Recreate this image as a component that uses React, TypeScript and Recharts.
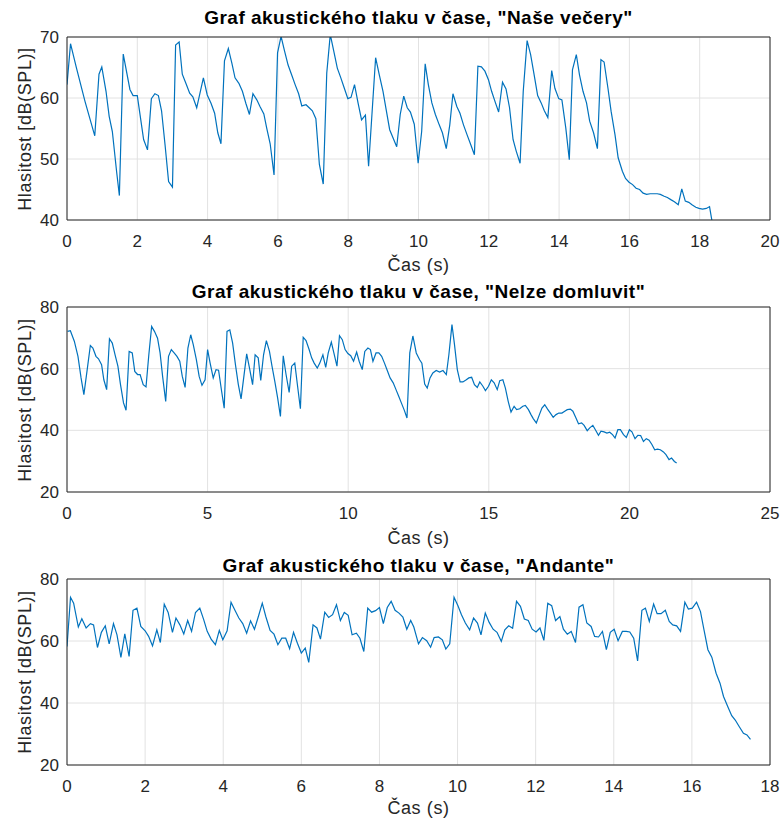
import { LineChart, Line, XAxis, YAxis, CartesianGrid } from "recharts";

// "Naše večery"
const naseTime = [
  0, 0.1, 0.27, 0.51, 0.79, 0.91, 0.99, 1.11, 1.2, 1.29, 1.41, 1.49, 1.6, 1.79, 1.88, 2.0, 2.18, 2.29, 2.4, 2.5,
  2.6, 2.69, 2.79, 2.89, 3.0, 3.09, 3.19, 3.28, 3.39, 3.49, 3.58, 3.69, 3.88, 3.99, 4.1, 4.2, 4.29, 4.38, 4.48,
  4.59, 4.69, 4.78, 4.89, 4.99, 5.09, 5.19, 5.29, 5.4, 5.49, 5.6, 5.68, 5.78, 5.89, 5.99, 6.09, 6.19, 6.29, 6.39,
  6.49, 6.59, 6.68, 6.8, 6.89, 6.98, 7.08, 7.18, 7.29, 7.39, 7.49, 7.6, 7.69, 7.79, 7.89, 7.99, 8.08, 8.18, 8.28,
  8.38, 8.49, 8.58, 8.78, 8.88, 8.99, 9.08, 9.18, 9.28, 9.38, 9.48, 9.58, 9.68, 9.77, 9.88, 9.99, 10.09, 10.19,
  10.28, 10.38, 10.48, 10.59, 10.68, 10.79, 10.89, 10.98, 11.09, 11.18, 11.28, 11.38, 11.49, 11.59, 11.69, 11.79,
  11.89, 11.99, 12.08, 12.19, 12.28, 12.39, 12.49, 12.59, 12.69, 12.78, 12.89, 12.98, 13.09, 13.19, 13.29, 13.39,
  13.49, 13.58, 13.68, 13.79, 13.88, 13.99, 14.08, 14.19, 14.29, 14.38, 14.49, 14.58, 14.68, 14.78, 14.87, 14.98,
  15.09, 15.19, 15.28, 15.39, 15.48, 15.59, 15.68, 15.8, 15.89, 15.99, 16.09, 16.19, 16.29, 16.39, 16.49, 16.59,
  16.69, 16.79, 16.88, 16.99, 17.08, 17.19, 17.28, 17.39, 17.49, 17.59, 17.69, 17.78, 17.89, 17.98, 18.08, 18.19,
  18.28, 18.38,
];
const naseSpl = [
  62.2, 68.9, 64.9, 59.5, 53.8, 63.9, 65.1, 61.1, 57.0, 54.5, 48.0, 44.0, 67.2, 61.4, 60.4, 60.4, 53.2, 51.5, 59.9,
  60.7, 60.4, 57.9, 52.3, 46.3, 45.4, 68.7, 69.2, 63.9, 62.3, 60.8, 60.2, 58.4, 63.3, 60.5, 59.1, 57.5, 54.3, 52.5,
  66.1, 68.1, 65.7, 63.3, 62.4, 61.1, 59.1, 57.3, 60.7, 59.7, 58.6, 57.4, 55.1, 52.5, 47.4, 67.4, 70.1, 67.7, 65.4,
  63.8, 62.2, 60.7, 58.7, 58.9, 58.4, 57.9, 56.6, 49.1, 45.9, 64.1, 70.4, 67.4, 64.9, 63.3, 61.6, 59.9, 60.1, 62.2,
  59.2, 56.4, 57.2, 48.8, 66.6, 63.9, 61.1, 58.1, 54.8, 53.4, 52.0, 57.3, 60.3, 58.4, 57.7, 55.7, 49.3, 54.5, 65.6,
  62.2, 59.2, 57.3, 55.6, 54.3, 51.7, 55.6, 60.7, 58.6, 57.5, 55.6, 54.0, 52.3, 50.7, 65.2, 65.1, 64.4, 63.0, 61.1,
  59.2, 57.7, 62.6, 61.5, 58.4, 53.2, 51.3, 49.3, 61.1, 69.4, 67.1, 63.8, 60.4, 59.2, 57.9, 56.8, 64.5, 61.6, 59.9,
  59.7, 55.1, 49.9, 64.6, 67.1, 63.8, 61.1, 59.2, 56.2, 54.3, 51.7, 66.3, 65.9, 61.6, 57.8, 54.0, 50.2, 48.0, 46.8,
  46.2, 45.8, 45.2, 45.0, 44.4, 44.2, 44.3, 44.3, 44.3, 44.2, 43.9, 43.7, 43.3, 43.0, 42.5, 45.1, 43.1, 42.9, 42.5,
  42.1, 41.9, 41.8, 41.9, 42.2, 38.8,
];

// "Nelze domluvit"
const nelzeTime = [
  0.02, 0.12, 0.26, 0.39, 0.5, 0.6, 0.71, 0.83, 0.92, 1.03, 1.12, 1.23, 1.31, 1.41, 1.51, 1.61, 1.71, 1.81, 1.9,
  2.01, 2.1, 2.21, 2.32, 2.41, 2.51, 2.6, 2.71, 2.81, 2.91, 3.01, 3.11, 3.22, 3.31, 3.4, 3.51, 3.61, 3.71, 3.81,
  3.91, 4.01, 4.1, 4.2, 4.3, 4.4, 4.49, 4.6, 4.7, 4.8, 4.91, 5.0, 5.09, 5.2, 5.3, 5.39, 5.5, 5.59, 5.69, 5.79, 5.89,
  5.99, 6.09, 6.19, 6.29, 6.39, 6.49, 6.6, 6.69, 6.8, 6.89, 6.99, 7.09, 7.2, 7.29, 7.39, 7.49, 7.59, 7.69, 7.79,
  7.9, 7.99, 8.1, 8.2, 8.3, 8.4, 8.5, 8.61, 8.7, 8.79, 8.9, 8.99, 9.1, 9.2, 9.29, 9.4, 9.49, 9.6, 9.69, 9.79, 9.89,
  9.99, 10.09, 10.19, 10.3, 10.39, 10.5, 10.59, 10.7, 10.79, 10.88, 10.99, 11.09, 11.19, 11.29, 11.39, 11.49, 11.6,
  11.7, 11.8, 11.89, 12.0, 12.09, 12.19, 12.3, 12.42, 12.54, 12.62, 12.72, 12.81, 12.91, 13.01, 13.13, 13.25,
  13.37, 13.49, 13.58, 13.69, 13.78, 13.88, 13.98, 14.08, 14.2, 14.29, 14.39, 14.49, 14.59, 14.68, 14.79, 14.88,
  14.99, 15.09, 15.19, 15.3, 15.39, 15.5, 15.59, 15.69, 15.79, 15.9, 15.99, 16.1, 16.21, 16.3, 16.41, 16.5, 16.58,
  16.69, 16.8, 16.89, 16.99, 17.09, 17.19, 17.29, 17.39, 17.49, 17.6, 17.7, 17.79, 17.9, 17.99, 18.1, 18.19, 18.3,
  18.39, 18.5, 18.59, 18.7, 18.79, 18.9, 18.99, 19.1, 19.2, 19.3, 19.4, 19.49, 19.59, 19.68, 19.79, 19.89, 20.0,
  20.09, 20.2, 20.3, 20.4, 20.5, 20.6, 20.7, 20.8, 20.9, 21.0, 21.1, 21.21, 21.3, 21.41, 21.5, 21.6, 21.68,
];
const nelzeSpl = [
  72.1, 72.3, 68.9, 64.0, 57.0, 51.6, 59.1, 67.5, 66.7, 64.0, 63.2, 61.3, 56.4, 53.2, 69.7, 68.3, 64.5, 60.8, 55.0,
  48.9, 46.5, 65.6, 65.1, 59.1, 58.1, 58.1, 54.8, 54.1, 64.5, 73.7, 72.1, 69.9, 65.1, 57.5, 49.4, 64.0, 66.2, 65.1,
  64.0, 62.4, 57.5, 53.9, 66.7, 71.0, 67.8, 62.9, 57.5, 54.6, 56.4, 66.2, 61.8, 57.0, 59.7, 59.5, 52.6, 47.2, 72.1,
  72.6, 68.3, 61.3, 55.0, 50.2, 57.5, 64.8, 60.2, 54.8, 64.5, 63.5, 56.2, 64.5, 69.1, 65.6, 60.8, 55.9, 50.5, 44.5,
  64.2, 58.1, 52.3, 60.8, 61.8, 54.3, 47.0, 70.2, 69.1, 66.2, 63.5, 61.8, 60.2, 61.8, 64.5, 60.4, 65.1, 68.6, 65.1,
  60.8, 70.7, 69.4, 66.2, 64.9, 64.2, 62.4, 65.4, 62.4, 59.7, 65.6, 66.7, 66.2, 62.4, 65.1, 65.1, 64.0, 61.8, 59.4,
  57.0, 55.4, 53.2, 51.0, 48.9, 46.4, 44.0, 65.1, 70.6, 65.1, 62.9, 61.8, 55.0, 53.7, 57.0, 58.6, 59.4, 58.9, 59.4,
  58.1, 64.5, 74.3, 67.8, 59.7, 55.7, 55.7, 56.4, 57.0, 57.2, 54.8, 53.9, 55.7, 54.3, 52.9, 54.3, 56.4, 55.4, 53.2,
  56.1, 56.4, 53.7, 49.4, 45.9, 47.8, 46.7, 47.0, 47.8, 48.1, 46.7, 45.1, 43.8, 42.4, 45.1, 47.2, 48.3, 46.9, 45.6,
  44.2, 45.1, 45.6, 45.6, 46.2, 46.7, 46.9, 46.2, 44.0, 42.1, 42.4, 41.6, 39.9, 40.8, 41.6, 40.2, 38.4, 39.7, 39.5,
  39.1, 39.4, 38.6, 37.5, 40.2, 40.2, 38.6, 37.7, 40.2, 39.5, 37.3, 38.4, 38.3, 36.4, 37.3, 36.8, 35.4, 33.7, 33.9,
  33.7, 33.0, 32.1, 30.5, 31.0, 29.9, 29.4,
];

// "Andante"
const andanteTime = [
  0, 0.09, 0.17, 0.29, 0.38, 0.49, 0.6, 0.68, 0.78, 0.88, 0.98, 1.08, 1.19, 1.28, 1.38, 1.48, 1.59, 1.69, 1.79,
  1.89, 2.0, 2.09, 2.19, 2.3, 2.39, 2.49, 2.59, 2.7, 2.79, 2.89, 2.99, 3.09, 3.19, 3.29, 3.4, 3.5, 3.59, 3.69, 3.8,
  3.9, 3.99, 4.1, 4.2, 4.3, 4.4, 4.5, 4.6, 4.7, 4.8, 4.9, 5.0, 5.09, 5.2, 5.3, 5.4, 5.5, 5.6, 5.7, 5.8, 5.9, 6.0,
  6.1, 6.19, 6.3, 6.4, 6.49, 6.6, 6.7, 6.8, 6.9, 7.0, 7.1, 7.2, 7.3, 7.41, 7.5, 7.6, 7.7, 7.8, 7.9, 8.0, 8.1, 8.2,
  8.3, 8.4, 8.5, 8.6, 8.7, 8.8, 8.88, 9.0, 9.1, 9.21, 9.31, 9.4, 9.51, 9.61, 9.7, 9.8, 9.91, 10.01, 10.1, 10.2,
  10.31, 10.41, 10.51, 10.6, 10.71, 10.81, 10.91, 11.01, 11.12, 11.21, 11.31, 11.41, 11.51, 11.61, 11.71, 11.81,
  11.91, 12.01, 12.11, 12.21, 12.31, 12.41, 12.51, 12.62, 12.71, 12.81, 12.91, 13.02, 13.11, 13.21, 13.31, 13.42,
  13.51, 13.61, 13.71, 13.81, 13.91, 14.01, 14.11, 14.22, 14.32, 14.41, 14.51, 14.61, 14.72, 14.81, 14.91, 15.02,
  15.11, 15.21, 15.32, 15.42, 15.51, 15.61, 15.71, 15.82, 15.91, 16.01, 16.12, 16.22, 16.31, 16.41, 16.51, 16.62,
  16.72, 16.81, 16.92, 17.02, 17.11, 17.21, 17.32, 17.41, 17.5,
];
const andanteSpl = [
  58.2, 74.1, 72.2, 64.5, 67.2, 64.2, 65.6, 65.2, 57.9, 62.8, 64.9, 59.1, 65.6, 62.0, 54.7, 62.3, 55.0, 69.9, 70.6,
  64.7, 63.3, 61.5, 58.4, 63.6, 59.5, 71.9, 69.2, 62.8, 67.4, 65.2, 62.3, 66.6, 63.1, 69.2, 70.6, 66.9, 63.1, 60.6,
  58.8, 63.4, 60.4, 63.3, 72.5, 69.9, 67.4, 65.6, 62.5, 66.5, 63.8, 67.9, 72.2, 67.9, 63.4, 62.2, 58.8, 60.9, 60.9,
  57.5, 62.8, 59.3, 56.1, 57.7, 53.1, 65.2, 64.2, 60.6, 69.3, 67.6, 68.5, 71.7, 66.6, 69.2, 68.3, 62.0, 62.5, 60.9,
  56.6, 70.6, 69.3, 69.8, 70.8, 65.6, 70.8, 72.8, 69.9, 69.0, 67.7, 63.8, 66.6, 64.5, 59.1, 61.1, 60.1, 58.0, 61.1,
  61.3, 60.4, 57.4, 59.1, 74.1, 71.4, 68.5, 65.8, 63.6, 67.4, 65.8, 62.0, 69.0, 66.0, 63.8, 62.8, 59.9, 63.6, 64.9,
  64.1, 72.8, 71.2, 67.1, 66.6, 63.8, 62.9, 64.2, 60.2, 72.2, 71.4, 66.6, 67.9, 63.8, 62.2, 63.1, 59.5, 70.9, 71.7,
  65.8, 64.7, 61.5, 61.3, 63.1, 57.2, 62.8, 63.8, 60.1, 63.1, 63.1, 62.9, 60.9, 53.6, 69.9, 70.6, 66.3, 71.9, 68.8,
  68.8, 69.9, 66.3, 65.2, 64.9, 63.1, 72.5, 70.3, 70.6, 72.5, 69.5, 63.6, 57.2, 54.8, 49.6, 46.4, 42.1, 38.8, 35.9,
  34.5, 32.4, 30.2, 29.7, 28.3,
];

const naseXTicks = [0, 2, 4, 6, 8, 10, 12, 14, 16, 18, 20];
const naseYTicks = [40, 50, 60, 70];
const nelzeXTicks = [0, 5, 10, 15, 20, 25];
const nelzeYTicks = [20, 40, 60, 80];
const andanteXTicks = [0, 2, 4, 6, 8, 10, 12, 14, 16, 18];
const andanteYTicks = [20, 40, 60, 80];

const FONT = "'Liberation Sans', Arial, Helvetica, sans-serif";
const INK = "#262626";
const LEFT = 67;
const RIGHT = 770;

type PanelProps = {
  title: string;
  times: number[];
  spl: number[];
  xTicks: number[];
  yTicks: number[];
  plotTop: number;
  plotBottom: number;
  titleY: number;
  labelY: number;
};

function Panel({ title, times, spl, xTicks, yTicks, plotTop, plotBottom, titleY, labelY }: PanelProps) {
  const rows = times.map((t, i) => ({ t, v: spl[i] }));
  const plotH = plotBottom - plotTop;
  const pad = 10;
  const xDomain = [xTicks[0], xTicks[xTicks.length - 1]];
  const yDomain = [yTicks[0], yTicks[yTicks.length - 1]];
  const tickStyle = { fill: INK, fontSize: 17, fontFamily: FONT };

  return (
    <>
      <div
        style={{
          position: "absolute",
          left: LEFT,
          width: RIGHT - LEFT,
          top: titleY - 11,
          lineHeight: "22px",
          textAlign: "center",
          fontFamily: FONT,
          fontWeight: "bold",
          fontSize: 19,
          letterSpacing: 0.5,
          color: "#000",
          whiteSpace: "nowrap",
        }}
      >
        {title}
      </div>
      <div style={{ position: "absolute", left: 0, top: plotTop - pad }}>
        <LineChart
          width={782}
          height={pad + plotH + 32}
          data={rows}
          margin={{ top: pad, right: 782 - RIGHT, left: 0, bottom: 0 }}
        >
          <CartesianGrid stroke="#e2e2e2" strokeWidth={1} />
          <XAxis
            dataKey="t"
            type="number"
            domain={xDomain}
            ticks={xTicks}
            allowDataOverflow
            height={32}
            tickLine={false}
            tickSize={6}
            tickMargin={9}
            axisLine={{ stroke: INK }}
            tick={tickStyle}
          />
          <XAxis
            xAxisId="inner"
            dataKey="t"
            type="number"
            domain={xDomain}
            ticks={xTicks}
            allowDataOverflow
            mirror
            tick={false}
            tickSize={5}
            tickLine={{ stroke: INK }}
            axisLine={false}
          />
          <XAxis
            xAxisId="top"
            orientation="top"
            dataKey="t"
            type="number"
            domain={xDomain}
            ticks={xTicks}
            allowDataOverflow
            mirror
            tick={false}
            tickSize={5}
            tickLine={{ stroke: INK }}
            axisLine={{ stroke: INK }}
          />
          <YAxis
            type="number"
            domain={yDomain}
            ticks={yTicks}
            allowDataOverflow
            width={LEFT}
            tickLine={false}
            axisLine={{ stroke: INK }}
            tick={tickStyle}
          />
          <YAxis
            yAxisId="inner"
            type="number"
            domain={yDomain}
            ticks={yTicks}
            allowDataOverflow
            mirror
            tick={false}
            tickSize={5}
            tickLine={{ stroke: INK }}
            axisLine={false}
          />
          <YAxis
            yAxisId="right"
            orientation="right"
            type="number"
            domain={yDomain}
            ticks={yTicks}
            allowDataOverflow
            mirror
            tick={false}
            tickSize={5}
            tickLine={{ stroke: INK }}
            axisLine={{ stroke: INK }}
          />
          <Line
            type="linear"
            dataKey="v"
            stroke="#0072BD"
            strokeWidth={1.2}
            dot={false}
            isAnimationActive={false}
          />
        </LineChart>
      </div>
      <div
        style={{
          position: "absolute",
          left: LEFT,
          width: RIGHT - LEFT,
          top: labelY - 11,
          lineHeight: "22px",
          textAlign: "center",
          fontFamily: FONT,
          fontSize: 18,
          letterSpacing: 0.6,
          color: INK,
        }}
      >
        Čas (s)
      </div>
      <div
        style={{
          position: "absolute",
          left: 25,
          top: (plotTop + plotBottom) / 2,
          transform: "translate(-50%, -50%) rotate(-90deg)",
          fontFamily: FONT,
          fontSize: 18,
          letterSpacing: 0.6,
          lineHeight: "22px",
          color: INK,
          whiteSpace: "nowrap",
        }}
      >
        Hlasitost [dB(SPL)]
      </div>
    </>
  );
}

export default function App() {
  return (
    <div style={{ position: "absolute", left: 0, top: 0, width: 782, height: 821, background: "#fff" }}>
      <Panel
        title={'Graf akustického tlaku v čase, "Naše večery"'}
        times={naseTime}
        spl={naseSpl}
        xTicks={naseXTicks}
        yTicks={naseYTicks}
        plotTop={37}
        plotBottom={220}
        titleY={18}
        labelY={265}
      />
      <Panel
        title={'Graf akustického tlaku v čase, "Nelze domluvit"'}
        times={nelzeTime}
        spl={nelzeSpl}
        xTicks={nelzeXTicks}
        yTicks={nelzeYTicks}
        plotTop={307}
        plotBottom={492}
        titleY={292}
        labelY={538}
      />
      <Panel
        title={'Graf akustického tlaku v čase, "Andante"'}
        times={andanteTime}
        spl={andanteSpl}
        xTicks={andanteXTicks}
        yTicks={andanteYTicks}
        plotTop={579}
        plotBottom={765}
        titleY={566}
        labelY={808}
      />
    </div>
  );
}
